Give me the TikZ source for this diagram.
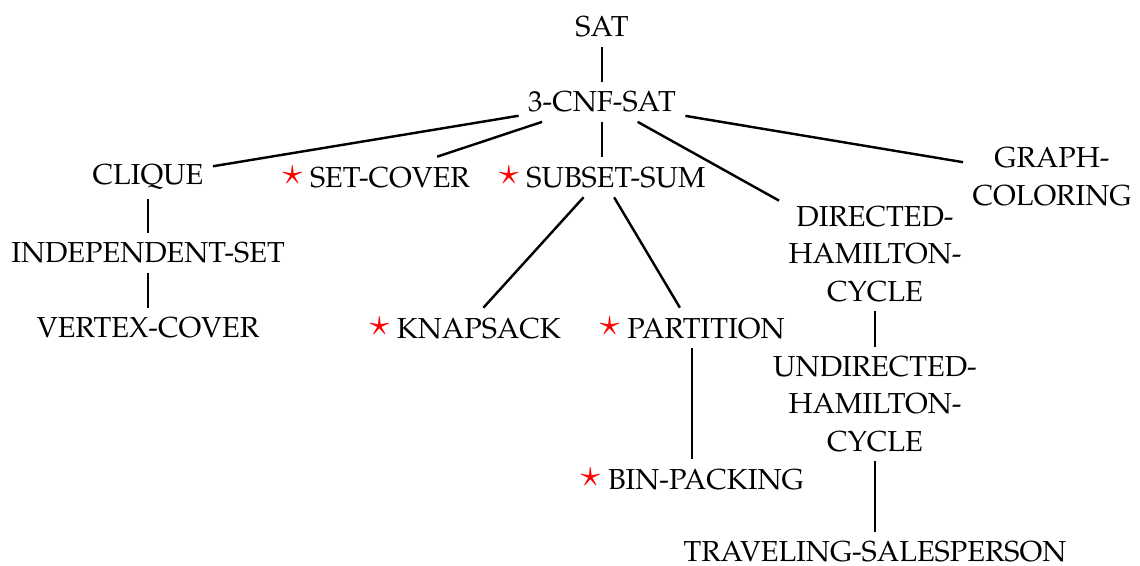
\documentclass[tikz,border=0pt]{standalone}
\usepackage[T1]{fontenc}
\usepackage{mathpazo}
\usepackage{graphicx}
\begin{document}
\begin{tikzpicture}[x=0.37pt,y=-0.37pt,
  every node/.style={font=\fontsize{10.7}{13.9}\selectfont, align=center},
  edge/.style={line width=0.9pt}]
\newcommand{\rstar}{\textcolor{red}{\raisebox{0.2ex}{\scalebox{1.3}{$\star$}}}\ }
\useasboundingbox (0,0) rectangle (1140,566);
\node (sat) at (602,27) {SAT};
\node (cnf) at (602,102) {3-CNF-SAT};
\node (clique) at (148,177) {CLIQUE};
\node (setcover) at (376,177) {\rstar SET-COVER};
\node (subset) at (602,177) {\rstar SUBSET-SUM};
\node (graph) at (1052,177) {GRAPH-\\COLORING};
\node (dham) at (875,254) {DIRECTED-\\HAMILTON-\\CYCLE};
\node (indep) at (148,253) {INDEPENDENT-SET};
\node (vc) at (148,328) {VERTEX-COVER};
\node (knap) at (465,328) {\rstar KNAPSACK};
\node (part) at (692,328) {\rstar PARTITION};
\node (uham) at (875,404) {UNDIRECTED-\\HAMILTON-\\CYCLE};
\node (bin) at (692,479) {\rstar BIN-PACKING};
\node (tsp) at (875,552) {TRAVELING-SALESPERSON};
\draw[edge] (sat) -- (cnf);
\draw[edge] (cnf) -- (clique);
\draw[edge] (cnf) -- (setcover);
\draw[edge] (cnf) -- (subset.north -| cnf);
\draw[edge] (cnf) -- (dham);
\draw[edge] (cnf) -- (graph);
\draw[edge] (clique) -- (indep);
\draw[edge] (indep) -- (vc);
\draw[edge] (subset) -- (knap);
\draw[edge] (subset) -- (part);
\draw[edge] (part) -- (bin);
\draw[edge] (dham) -- (uham);
\draw[edge] (uham) -- (tsp);
\end{tikzpicture}
\end{document}
